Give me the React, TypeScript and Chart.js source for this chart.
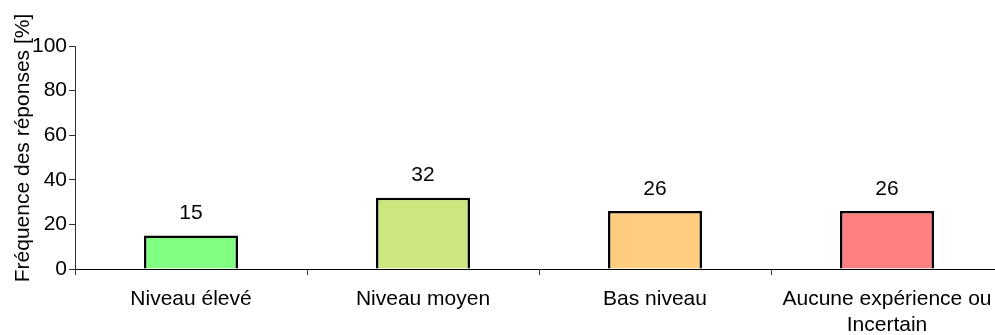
import React, { useEffect, useRef } from "react";
import { Chart, registerables } from "chart.js";

Chart.register(...registerables);

const categories: (string | string[])[] = [
  "Niveau élevé",
  "Niveau moyen",
  "Bas niveau",
  ["Aucune expérience ou", "Incertain"],
];
const values = [15, 32, 26, 26];
const barColors = ["#80FF80", "#CCE680", "#FFCC80", "#FF8080"];
const yTicks = [0, 20, 40, 60, 80, 100];
const yTitle = "Fréquence des réponses [%]";

const FONT = "Arial, 'Liberation Sans', sans-serif";
const FONT_SIZE = 21;

// Writes each bar's value above it and the rotated y-axis caption.
const labelPlugin = {
  id: "barValues",
  afterDatasetsDraw(chart: any) {
    const ctx = chart.ctx;
    const meta = chart.getDatasetMeta(0);
    ctx.save();
    ctx.fillStyle = "#000";
    ctx.font = `${FONT_SIZE}px ${FONT}`;
    ctx.textAlign = "center";
    ctx.textBaseline = "middle";
    meta.data.forEach((bar: any, i: number) => {
      ctx.fillText(String(values[i]), bar.x, bar.y - 22);
    });
    ctx.translate(23, 148);
    ctx.rotate(-Math.PI / 2);
    ctx.fillText(yTitle, 0, 0);
    ctx.restore();
  },
};

export default function App() {
  const ref = useRef<HTMLCanvasElement | null>(null);

  useEffect(() => {
    document.body.style.margin = "0";
    document.body.style.overflow = "hidden";
    const canvas = ref.current!;
    const chart = new Chart(canvas, {
      type: "bar",
      data: {
        labels: categories,
        datasets: [
          {
            data: values,
            backgroundColor: barColors,
            borderColor: "#000",
            borderWidth: 2.5,
            categoryPercentage: 1,
            barPercentage: 0.405,
          },
        ],
      },
      options: {
        animation: false,
        responsive: false,
        maintainAspectRatio: false,
        layout: { padding: { top: 46, left: 0, right: 0, bottom: 0 } },
        plugins: {
          legend: { display: false },
          tooltip: { enabled: false },
        },
        scales: {
          x: {
            offset: true,
            grid: {
              display: true,
              offset: true,
              drawOnChartArea: false,
              drawTicks: true,
              tickLength: 6,
              color: "#333",
            },
            border: { display: true, color: "#000", width: 1 },
            ticks: {
              color: "#000",
              font: { family: FONT, size: FONT_SIZE, lineHeight: 1.24 },
              padding: 11,
              maxRotation: 0,
              minRotation: 0,
              autoSkip: false,
            },
            afterFit(scale: any) {
              scale.height = 66;
            },
          },
          y: {
            min: 0,
            max: 100,
            afterBuildTicks(scale: any) {
              scale.ticks = yTicks.map((v) => ({ value: v }));
            },
            grid: {
              display: true,
              drawOnChartArea: false,
              drawTicks: true,
              tickLength: 6,
              color: "#333",
            },
            border: { display: true, color: "#333", width: 1 },
            ticks: {
              color: "#000",
              font: { family: FONT, size: FONT_SIZE },
              padding: 2,
            },
            afterFit(scale: any) {
              scale.width = 75;
            },
          },
        },
      },
      plugins: [labelPlugin],
    });
    return () => chart.destroy();
  }, []);

  return (
    <div style={{ position: "fixed", left: 0, top: 0, width: 1003, height: 335 }}>
      <canvas ref={ref} width={1003} height={335} style={{ width: 1003, height: 335 }} />
    </div>
  );
}
